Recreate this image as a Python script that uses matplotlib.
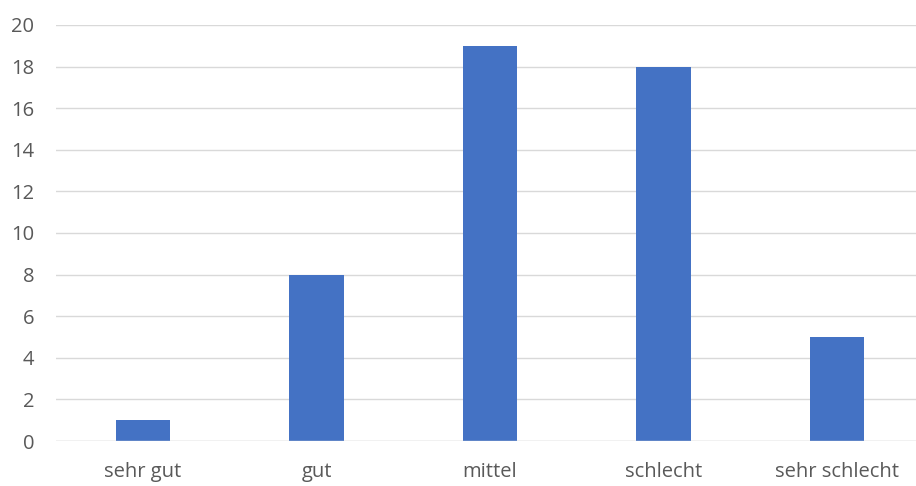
import matplotlib
matplotlib.use("Agg")
import matplotlib.pyplot as plt

categories = ["sehr gut", "gut", "mittel", "schlecht", "sehr schlecht"]
values = [1, 8, 19, 18, 5]
y_ticks = [0, 2, 4, 6, 8, 10, 12, 14, 16, 18, 20]

plt.rcParams["font.family"] = ["Open Sans", "DejaVu Sans"]

fig = plt.figure(figsize=(9.16, 4.86), dpi=100)
ax = fig.add_axes([56.25 / 916, 45 / 486, 867.5 / 916, 416 / 486])

x = list(range(len(categories)))
ax.bar(x, values, width=0.312, color="#4472C4", zorder=3)

ax.set_xlim(-0.5, len(categories) - 0.5)
ax.set_ylim(0, 20)
ax.set_yticks(y_ticks)
ax.set_xticks(x)
ax.set_xticklabels(categories)

ax.grid(axis="y", color="#D9D9D9", linewidth=1.0, zorder=0)
ax.axhline(0, color="#D9D9D9", linewidth=1.0, zorder=4)
for s in ax.spines.values():
    s.set_visible(False)
ax.tick_params(axis="both", length=0, labelsize=14.5, colors="#595959")
ax.tick_params(axis="y", pad=16)
ax.tick_params(axis="x", pad=15)

fig.savefig("out.png", dpi=100)
